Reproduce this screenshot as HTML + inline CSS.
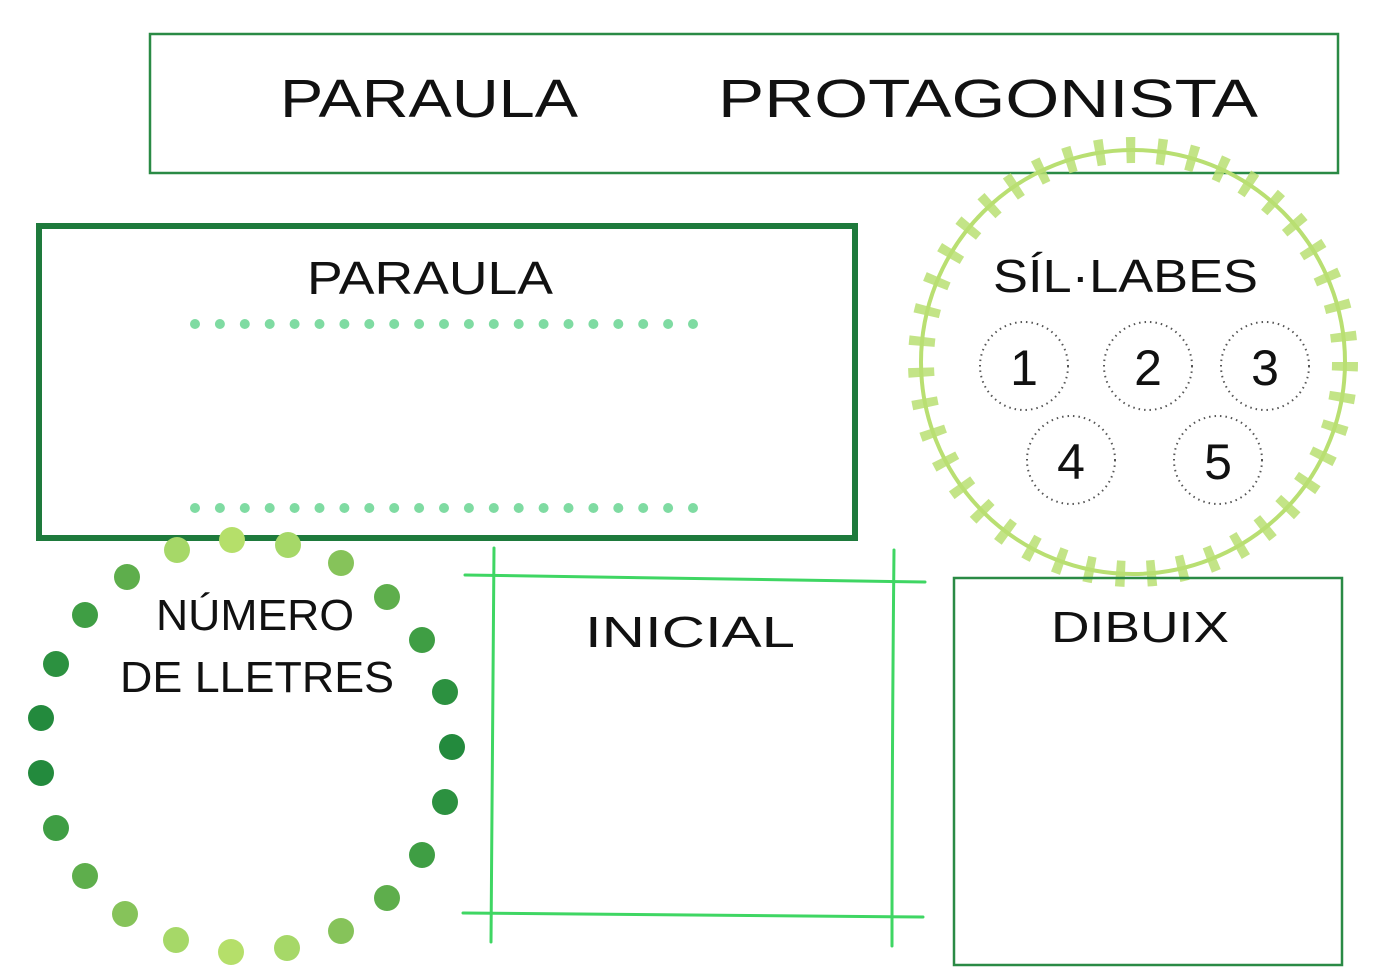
<!DOCTYPE html>
<html><head><meta charset="utf-8"><style>
html,body{margin:0;padding:0;background:#fff;}
svg{display:block;}
text{font-family:"Liberation Sans",sans-serif;fill:#111;}
</style></head><body>
<svg width="1393" height="976" viewBox="0 0 1393 976" xmlns="http://www.w3.org/2000/svg">
<rect x="0" y="0" width="1393" height="976" fill="#fff"/>
<!-- top box -->
<rect x="150" y="34" width="1188" height="139" fill="none" stroke="#2a8a45" stroke-width="2.5"/>
<text x="280" y="117" font-size="54" textLength="298" lengthAdjust="spacingAndGlyphs">PARAULA</text>
<text x="718" y="117" font-size="54" textLength="540" lengthAdjust="spacingAndGlyphs">PROTAGONISTA</text>
<!-- wreath -->
<circle cx="1133" cy="362" r="212" fill="none" stroke="#b9df72" stroke-width="4"/>
<circle cx="1133" cy="362" r="212" fill="none" stroke="#b9df72" stroke-width="26" stroke-dasharray="9 22" opacity="0.85"/>
<!-- paraula box -->
<rect x="39" y="226" width="816" height="312" fill="#fff" stroke="#1e7a3c" stroke-width="6"/>
<text x="430" y="294" font-size="46" text-anchor="middle" textLength="246" lengthAdjust="spacingAndGlyphs">PARAULA</text>
<line x1="195" y1="324" x2="695" y2="324" stroke="#7fdba2" stroke-width="10" stroke-linecap="round" stroke-dasharray="0 24.9"/>
<line x1="195" y1="508" x2="695" y2="508" stroke="#7fdba2" stroke-width="10" stroke-linecap="round" stroke-dasharray="0 24.9"/>
<!-- silabes -->
<rect x="990" y="250" width="275" height="48" fill="#fff"/>
<text x="993" y="292" font-size="46" textLength="265" lengthAdjust="spacingAndGlyphs">SÍL·LABES</text>
<g fill="#fff" stroke="#555" stroke-width="2" stroke-dasharray="1.5 4">
<circle cx="1024" cy="366" r="44"/><circle cx="1148" cy="366" r="44"/><circle cx="1265" cy="366" r="44"/>
<circle cx="1071" cy="460" r="44"/><circle cx="1218" cy="460" r="44"/>
</g>
<g font-size="50" text-anchor="middle">
<text x="1024" y="385">1</text><text x="1148" y="385">2</text><text x="1265" y="385">3</text>
<text x="1071" y="479">4</text><text x="1218" y="479">5</text>
</g>
<!-- dots circle -->
<g>
<circle cx="177" cy="550" r="13" fill="#a6d868"/><circle cx="232" cy="540" r="13" fill="#b5df6a"/><circle cx="288" cy="545" r="13" fill="#a6d868"/>
<circle cx="341" cy="563" r="13" fill="#86c35a"/><circle cx="387" cy="597" r="13" fill="#5eae4c"/><circle cx="422" cy="640" r="13" fill="#3f9e44"/>
<circle cx="445" cy="692" r="13" fill="#2c9140"/><circle cx="452" cy="747" r="13" fill="#238a3d"/><circle cx="445" cy="802" r="13" fill="#2c9140"/>
<circle cx="422" cy="855" r="13" fill="#3f9e44"/><circle cx="387" cy="898" r="13" fill="#5eae4c"/><circle cx="341" cy="931" r="13" fill="#86c35a"/>
<circle cx="287" cy="948" r="13" fill="#a6d868"/><circle cx="231" cy="952" r="13" fill="#b5df6a"/><circle cx="176" cy="940" r="13" fill="#a6d868"/>
<circle cx="125" cy="914" r="13" fill="#86c35a"/><circle cx="85" cy="876" r="13" fill="#5eae4c"/><circle cx="56" cy="828" r="13" fill="#3f9e44"/>
<circle cx="41" cy="773" r="13" fill="#238a3d"/><circle cx="41" cy="718" r="13" fill="#238a3d"/><circle cx="56" cy="664" r="13" fill="#2c9140"/>
<circle cx="85" cy="615" r="13" fill="#3f9e44"/><circle cx="127" cy="577" r="13" fill="#5eae4c"/>
</g>
<text x="255" y="630" font-size="44" text-anchor="middle" textLength="198" lengthAdjust="spacingAndGlyphs">NÚMERO</text>
<text x="257" y="692" font-size="44" text-anchor="middle" textLength="274" lengthAdjust="spacingAndGlyphs">DE LLETRES</text>
<!-- inicial -->
<g stroke="#3fd663" stroke-width="3" fill="none" stroke-linecap="round">
<path d="M465 575 Q690 578 925 582"/>
<path d="M463 913 Q690 916 923 917"/>
<path d="M494 548 Q492 740 491 942"/>
<path d="M894 550 Q892 750 892 946"/>
</g>
<text x="690" y="647" font-size="44" text-anchor="middle" textLength="210" lengthAdjust="spacingAndGlyphs">INICIAL</text>
<!-- dibuix -->
<rect x="954" y="578" width="388" height="387" fill="none" stroke="#2a8a45" stroke-width="2.5"/>
<text x="1140" y="642" font-size="44" text-anchor="middle" textLength="178" lengthAdjust="spacingAndGlyphs">DIBUIX</text>
</svg>
</body></html>
